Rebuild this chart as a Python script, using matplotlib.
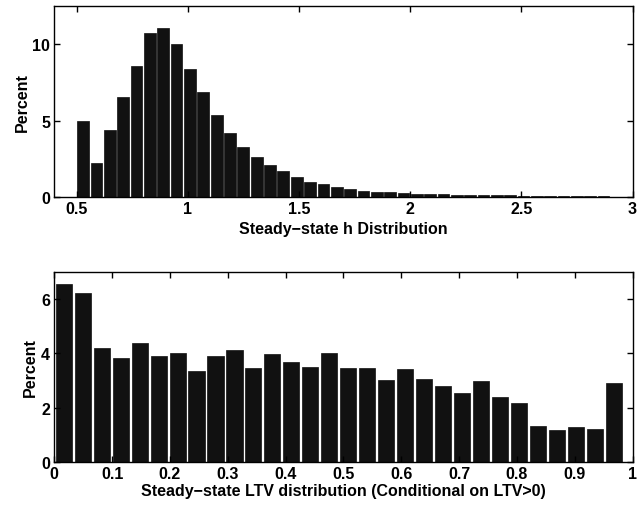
import matplotlib
matplotlib.use("Agg")
import matplotlib.pyplot as plt
import numpy as np

plt.rcParams['font.family'] = ['Liberation Sans', 'DejaVu Sans']
plt.rcParams['font.weight'] = 'bold'
plt.rcParams['font.size'] = 11.5

# steady-state h histogram (percent), 40 bins of width 0.06 starting at 0.5
h_lo, h_width = 0.5, 0.06
h_pct = [5.0, 2.24, 4.42, 6.54, 8.6, 10.78, 11.07, 10.02, 8.39, 6.86,
         5.36, 4.23, 3.31, 2.61, 2.11, 1.70, 1.30, 1.03, 0.85, 0.68,
         0.56, 0.44, 0.37, 0.33, 0.28, 0.24, 0.22, 0.19, 0.16, 0.15,
         0.14, 0.13, 0.12, 0.11, 0.10, 0.10, 0.09, 0.09, 0.08, 0.08]

# steady-state LTV histogram (percent), 30 bins starting at 0
ltv_lo, ltv_width = 0.0, 0.0328
ltv_pct = [6.54, 6.22, 4.2, 3.84, 4.39, 3.9, 4.01, 3.34, 3.9, 4.13,
           3.47, 3.97, 3.68, 3.5, 4.02, 3.48, 3.48, 3.01, 3.43, 3.07,
           2.79, 2.54, 3.0, 2.41, 2.17, 1.34, 1.17, 1.31, 1.23, 2.91]

h_ticks = [0.5, 1, 1.5, 2, 2.5, 3]
h_ticklabels = ['0.5', '1', '1.5', '2', '2.5', '3']
ltv_ticks = [0, 0.1, 0.2, 0.3, 0.4, 0.5, 0.6, 0.7, 0.8, 0.9, 1]
ltv_ticklabels = ['0', '0.1', '0.2', '0.3', '0.4', '0.5', '0.6', '0.7', '0.8', '0.9', '1']

fig = plt.figure(figsize=(6.38, 5.10), dpi=100)
ax1 = fig.add_axes([0.0851, 0.6112, 0.9063, 0.3745])
ax2 = fig.add_axes([0.0851, 0.0916, 0.9063, 0.3737])


def style(ax):
    for s in ax.spines.values():
        s.set_linewidth(1.0)
    ax.tick_params(direction='in', top=True, right=True, length=4, width=1.0,
                   labelsize=11.5, pad=3)
    for lab in ax.get_xticklabels() + ax.get_yticklabels():
        lab.set_fontweight('bold')


h_centers = h_lo + h_width * (np.arange(len(h_pct)) + 0.5)
ax1.bar(h_centers, h_pct, width=h_width * 0.88, color='#111111',
        edgecolor='#111111', linewidth=0.5)
ax1.set_xlim(0.4, 3)
ax1.set_ylim(0, 12.5)
ax1.set_xticks(h_ticks)
ax1.set_xticklabels(h_ticklabels)
ax1.set_yticks([0, 5, 10])
ax1.set_xlabel('Steady\u2212state h Distribution', fontweight='bold', labelpad=3)
ax1.set_ylabel('Percent', fontweight='bold', labelpad=2)
style(ax1)

ltv_centers = ltv_lo + ltv_width * (np.arange(len(ltv_pct)) + 0.5)
ax2.bar(ltv_centers, ltv_pct, width=ltv_width * 0.85, color='#111111',
        edgecolor='#111111', linewidth=0.5)
ax2.set_xlim(0, 1)
ax2.set_ylim(0, 7)
ax2.set_xticks(ltv_ticks)
ax2.set_xticklabels(ltv_ticklabels)
ax2.set_yticks([0, 2, 4, 6])
ax2.set_xlabel('Steady\u2212state LTV distribution (Conditional on LTV>0)', fontweight='bold', labelpad=1)
ax2.set_ylabel('Percent', fontweight='bold', labelpad=2)
style(ax2)

fig.savefig('out.png', dpi=100)
